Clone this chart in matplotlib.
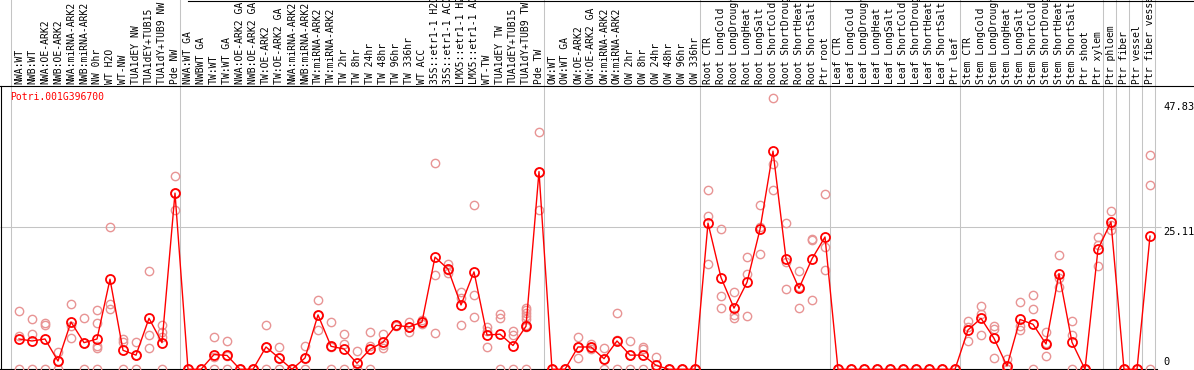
import matplotlib
matplotlib.use("Agg")
import matplotlib.pyplot as plt
from matplotlib.lines import Line2D

# sample names, in plot order
labels = [
    "NWA:WT", "NWB:WT", "NWA:OE-ARK2", "NWB:OE-ARK2", "NWA:miRNA-ARK2",
    "NWB:miRNA-ARK2", "NW 0hr", "WT H2O", "WT-NW", "TUA1dEY NW",
    "TUA1dEY+TUB15", "TUA1dY+TUB9 NW", "Pde NW",
    "NWA:WT GA", "NWBWT GA", "TW:WT", "TW:WT GA", "NWA:OE-ARK2 GA",
    "NWB:OE-ARK2 GA", "TW:OE-ARK2", "TW:OE-ARK2 GA", "NWA:miRNA-ARK2",
    "NWB:miRNA-ARK2", "TW:miRNA-ARK2", "TW:miRNA-ARK2", "TW 2hr", "TW 8hr",
    "TW 24hr", "TW 48hr", "TW 96hr", "TW 336hr", "WT ACC",
    "35S::etr1-1 H2O", "35S::etr1-1 ACC", "LMX5::etr1-1 H2O",
    "LMX5::etr1-1 ACC", "WT-TW", "TUA1dEY TW", "TUA1dEY+TUB15",
    "TUA1dY+TUB9 TW", "Pde TW",
    "OW:WT", "OW:WT GA", "OW:OE-ARK2", "OW:OE-ARK2 GA", "OW:miRNA-ARK2",
    "OW:miRNA-ARK2", "OW 2hr", "OW 8hr", "OW 24hr", "OW 48hr", "OW 96hr",
    "OW 336hr",
    "Root CTR", "Root LongCold", "Root LongDrought", "Root LongHeat",
    "Root LongSalt", "Root ShortCold", "Root ShortDrought", "Root ShortHeat",
    "Root ShortSalt", "Ptr root",
    "Leaf CTR", "Leaf LongCold", "Leaf LongDrought", "Leaf LongHeat",
    "Leaf LongSalt", "Leaf ShortCold", "Leaf ShortDrought", "Leaf ShortHeat",
    "Leaf ShortSalt", "Ptr leaf",
    "Stem CTR", "Stem LongCold", "Stem LongDrought", "Stem LongHeat",
    "Stem LongSalt", "Stem ShortCold", "Stem ShortDrought", "Stem ShortHeat",
    "Stem ShortSalt", "Ptr shoot", "Ptr xylem",
    "Ptr phloem", "Ptr fiber", "Ptr vessel", "Ptr fiber vessel",
]

# index of first sample of each group (last entry = end)
group_starts = [0, 13, 41, 53, 63, 73, 84, 85, 86, 87, 88]

means = [
    5.35, 5.0, 5.35, 1.46, 8.35, 4.7, 5.35, 15.9, 3.35, 2.5, 9.0, 4.7, 31.1,
    0, 0, 2.6, 2.45, 0, 0, 3.94, 2.0, 0, 2.0, 9.6, 4.06, 3.58, 1.06, 3.53,
    4.77, 7.77, 7.47, 8.35, 19.8, 17.7, 11.35, 17.2, 6.05, 6.2, 4.2, 7.6, 34.9,
    0, 0, 3.94, 3.94, 1.87, 5.0, 2.5, 2.5, 0.7, 0, 0, 0,
    25.8, 16.2, 10.8, 15.35, 24.7, 38.5, 19.5, 14.3, 19.5, 23.35,
    0, 0, 0, 0, 0, 0, 0, 0, 0, 0,
    6.94, 9.0, 5.47, 0.58, 8.8, 7.94, 4.47, 16.9, 4.77, 0, 21.2,
    26.0, 0, 0, 23.5,
]

reps = [
    [10.3, 5.9, 0], [8.8, 6.2, 0], [8.2, 7.8, 0], [3.0, 1.4, 0],
    [11.5, 7.7, 5.5], [9.0, 4.7, 0], [10.4, 8.1, 4.2, 3.7, 0],
    [25.2, 11.6, 10.6], [5.35, 4.9, 0], [4.9, 2.6, 0], [17.4, 6.0, 3.7],
    [7.9, 6.6, 5.75, 0], [34.1, 31.1, 28.1],
    [0, 0, 0], [0, 0, 0], [5.7, 2.2, 0], [5.0, 2.4, 0], [0, 0, 0], [0, 0, 0],
    [7.8, 4.0, 0], [3.9, 2.0, 0], [0, 0, 0], [4.1, 2.0, 0], [12.2, 9.6, 7.0],
    [8.3, 3.9, 0], [6.2, 4.5, 0], [3.3, 0, 0], [6.6, 4.2, 0],
    [6.2, 4.3, 3.8], [7.9, 7.8, 7.6], [8.4, 7.5, 6.5], [8.7, 8.3, 8.0],
    [36.4, 16.6, 6.4], [18.5, 17.6, 17.0], [13.7, 12.5, 7.8],
    [29.0, 13.1, 9.2], [7.4, 6.8, 4.0], [9.7, 9.1, 0], [6.7, 6.1, 0],
    [10.9, 10.5, 9.9, 9.4, 8.8, 7.8, 7.5, 0], [41.8, 34.9, 28.1],
    [0, 0, 0], [0, 0, 0], [5.7, 4.0, 2.0], [4.4, 4.0, 3.5], [3.7, 1.9, 0],
    [9.9, 5.1, 0], [5.0, 2.5, 0], [3.9, 3.6, 0], [2.2, 0, 0],
    [0, 0, 0], [0, 0, 0], [0, 0, 0],
    [31.7, 27.0, 18.6], [24.7, 12.9, 10.9], [13.6, 9.6, 9.0],
    [19.9, 16.8, 9.4], [29.0, 25.1, 20.4], [47.83, 36.2, 31.7],
    [25.8, 19.0, 14.1], [17.4, 14.5, 10.8], [23.0, 22.9, 12.2],
    [30.9, 21.5, 17.5],
    [0, 0, 0], [0, 0, 0], [0, 0, 0], [0, 0, 0], [0, 0, 0],
    [0, 0, 0], [0, 0, 0], [0, 0, 0], [0, 0, 0], [0, 0, 0],
    [8.6, 7.5, 5.0], [11.2, 9.8, 6.0], [7.6, 7.1, 2.0], [1.8, 0, 0],
    [11.8, 7.6, 7.0], [13.2, 10.7, 0], [6.5, 4.6, 2.3], [20.1, 16.1, 14.6],
    [8.6, 6.1, 0], [0, 0, 0], [23.4, 21.9, 18.3],
    [27.9, 25.4, 24.6], [0, 0, 0], [0, 0, 0], [37.8, 32.5, 0],
]

gene = "Potri.001G396700"
ytick_vals = [47.83, 25.11, 0]
ytick_text = ["47.83", "25.11", "0"]
ytick_offsets = [-6.3, -3.6, 5.3]  # points, label nudge

W, H = 1194, 370
MONO = "DejaVu Sans Mono"


def fx(x):
    return x / W


def fy(y):
    return 1 - y / H


fig = plt.figure(figsize=(W / 100, H / 100), dpi=100)
ax = fig.add_axes([0, 0, 1, 1])
ax.axis("off")

# 13 px per sample, first sample at x=19; value 0 at y=369.3, 5.666 px/unit
ax.set_xlim(-19 / 13, (W - 19) / 13)
ax.set_ylim(-0.7 / 5.666, (H - 0.7) / 5.666)

grey = "#c4c4c4"
for b in group_starts:
    ax.axvline(b - 0.615, color=grey, lw=0.75, zorder=1)
ax.hlines(25.11, -19 / 13, (1161 - 19) / 13, color=grey, lw=0.75, zorder=1)

# frame lines
for xs, ys in [((0, W), (85.5, 85.5)), ((188, W), (0.5, 0.5)),
               ((0.5, 0.5), (85.5, 369.5))]:
    fig.add_artist(Line2D([fx(v) for v in xs], [fy(v) for v in ys],
                          color="black", lw=0.8, transform=fig.transFigure))
ax.axhline(0, xmin=0, xmax=1157 / W, color="black", lw=0.8, zorder=2)

# replicates
for i, r in enumerate(reps):
    ax.plot([i] * len(r), r, "o", ms=6, mfc="none", mec="#e89494", mew=1.0,
            clip_on=False, zorder=3)

x = list(range(len(means)))
ax.plot(x, means, "-", color="red", lw=1.0, zorder=4)
ax.plot(x, means, "o", ms=6.5, mfc="none", mec="red", mew=1.3,
        clip_on=False, zorder=5)

# sample labels
for i, lab in enumerate(labels):
    ax.text(i, fy(84), lab, transform=ax.get_xaxis_transform(), rotation=90,
            ha="center", va="bottom", fontsize=7, family=MONO, color="black")

ax.text(fx(10), fy(97), gene, transform=ax.transAxes, ha="left", va="center",
        fontsize=7, family=MONO, color="red")

for v, t, off in zip(ytick_vals, ytick_text, ytick_offsets):
    ax.annotate(t, xy=(fx(1163), v), xycoords=("figure fraction", "data"),
                xytext=(0, off), textcoords="offset points", ha="left",
                va="center", fontsize=7.5, family=MONO, color="black")

fig.savefig("out.png", dpi=100)
